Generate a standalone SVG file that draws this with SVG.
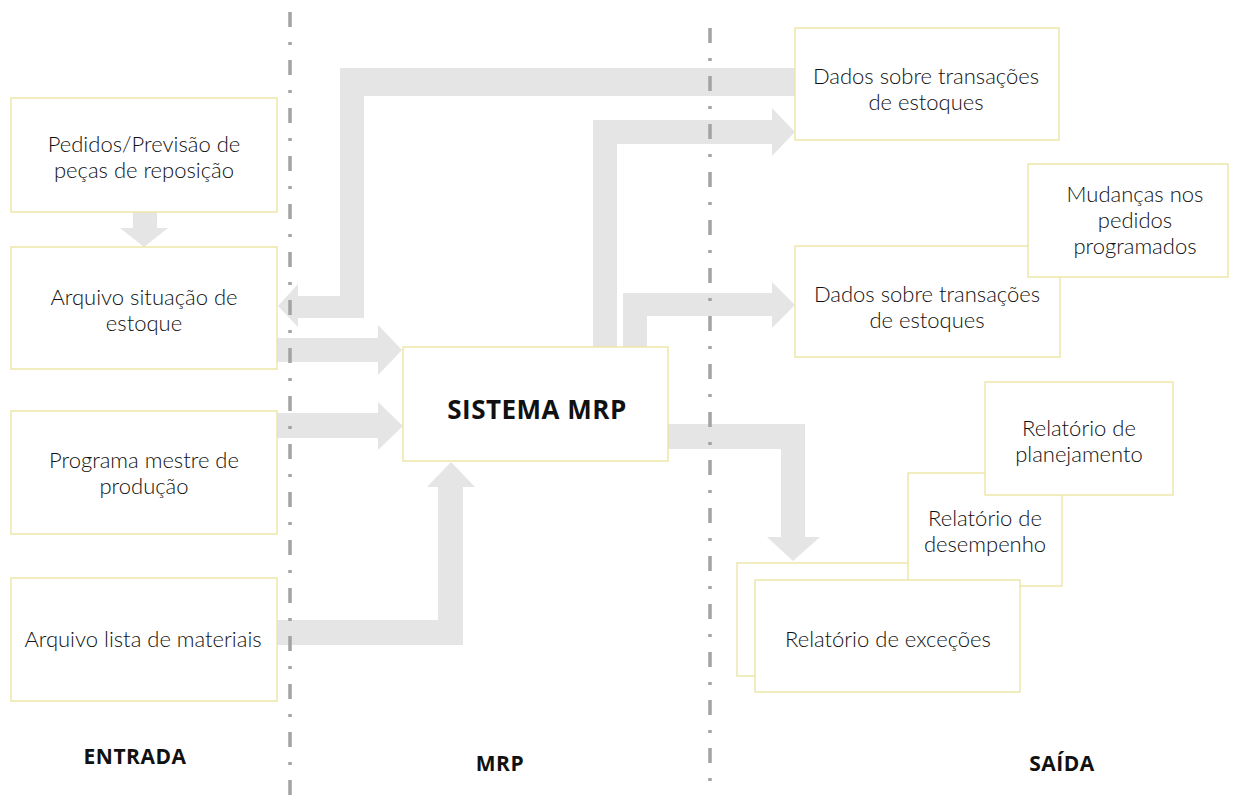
<svg xmlns="http://www.w3.org/2000/svg" width="1243" height="796" viewBox="0 0 1243 796">
<style>
.box{fill:#fff;stroke:#ede5a4;stroke-width:1.4}
.arr{fill:#e5e5e5}
.sep{stroke:#a3a3a3;stroke-width:3.5;fill:none;stroke-dasharray:15 15 3 15}
.t{font-family:Lato,"Open Sans",sans-serif;font-weight:300;font-size:22px;fill:#111;text-anchor:middle}
.b{font-family:"Open Sans",Lato,sans-serif;font-weight:700;fill:#111;text-anchor:middle}
</style>
<rect width="1243" height="796" fill="#fff"/>
<g id="connectors">
<polygon class="arr" points="133,212 157,212 157,228 168,228 144,247 120,228 133,228"/>
<polygon class="arr" points="795,68 340,68 340,296 298,296 298,284 278,306 298,327 298,318 364,318 364,96 795,96"/>
<polygon class="arr" points="277,338 378,338 378,325 402,350 378,375 378,362 277,362"/>
<polygon class="arr" points="277,413 378,413 378,402 403,426 378,450 378,438 277,438"/>
<polygon class="arr" points="277,620 438,620 438,487 427,487 451,462 475,487 463,487 463,645 277,645"/>
<polygon class="arr" points="593,347 593,120 772,120 772,108 795,132 772,156 772,144 617,144 617,347"/>
<polygon class="arr" points="623,347 623,293 772,293 772,282 795,305 772,328 772,316 647,316 647,347"/>
<polygon class="arr" points="668,424 805,424 805,537 820,537 793,561 767,537 781,537 781,449 668,449"/>
</g>
<g id="separators">
<line class="sep" x1="290" y1="12" x2="290" y2="796"/>
<line class="sep" x1="710" y1="28" x2="710" y2="796"/>
</g>
<g id="n-pedidos"><rect class="box" x="11" y="98" width="266" height="114"/><text class="t" x="144" y="152">Pedidos/Previsão de</text><text class="t" x="144" y="178">peças de reposição</text></g>
<g id="n-situacao"><rect class="box" x="11" y="247" width="266" height="122"/><text class="t" x="144" y="305">Arquivo situação de</text><text class="t" x="144" y="331">estoque</text></g>
<g id="n-programa"><rect class="box" x="11" y="411" width="266" height="123"/><text class="t" x="144" y="468">Programa mestre de</text><text class="t" x="144" y="494">produção</text></g>
<g id="n-lista"><rect class="box" x="11" y="578" width="266" height="123"/><text class="t" x="143" y="647">Arquivo lista de materiais</text></g>
<g id="n-mrp"><rect class="box" x="403" y="347" width="265" height="114"/><text class="b" x="537" y="419" font-size="26" letter-spacing="0.5">SISTEMA MRP</text></g>
<g id="n-dados1"><rect class="box" x="795" y="28" width="264" height="112"/><text class="t" x="926" y="84">Dados sobre transações</text><text class="t" x="926" y="110">de estoques</text></g>
<g id="n-dados2"><rect class="box" x="795" y="246" width="265" height="111"/><text class="t" x="927" y="302">Dados sobre transações</text><text class="t" x="927" y="328">de estoques</text></g>
<g id="n-mudancas"><rect class="box" x="1028" y="164" width="200" height="113"/><text class="t" x="1135" y="202">Mudanças nos</text><text class="t" x="1135" y="228">pedidos</text><text class="t" x="1135" y="254">programados</text></g>
<g id="n-back"><rect class="box" x="737" y="563" width="200" height="113"/></g>
<g id="n-desempenho"><rect class="box" x="908" y="473" width="154" height="113"/><text class="t" x="985" y="526">Relatório de</text><text class="t" x="985" y="552">desempenho</text></g>
<g id="n-planejamento"><rect class="box" x="985" y="382" width="188" height="113"/><text class="t" x="1079" y="436">Relatório de</text><text class="t" x="1079" y="462">planejamento</text></g>
<g id="n-excecoes"><rect class="box" x="755" y="580" width="265" height="112"/><text class="t" x="888" y="647">Relatório de exceções</text></g>
<text class="b" x="135" y="764" font-size="21" letter-spacing="0.5">ENTRADA</text>
<text class="b" x="500" y="771" font-size="21" letter-spacing="0.5">MRP</text>
<text class="b" x="1062" y="771" font-size="21" letter-spacing="0.5">SAÍDA</text>
</svg>
